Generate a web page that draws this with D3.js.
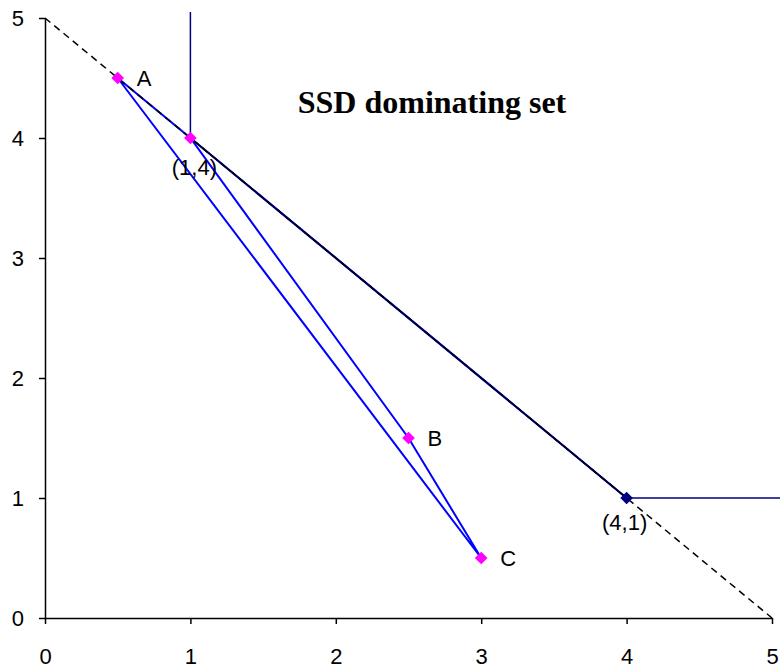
<!DOCTYPE html>
<html><head><meta charset="utf-8">
<script src="https://cdn.jsdelivr.net/npm/d3@7"></script>
<style>body{margin:0;background:#fff;}svg{display:block;}</style>
</head><body>
<script>
const xTicks = [0,1,2,3,4,5];
const yTicks = [0,1,2,3,4,5];
const dashedLine = [[0,5],[5,0]];
const polygonPts = [[0.5,4.5],[1,4],[2.5,1.5],[3,0.5],[0.5,4.5]];
const pointNames = ["A","(1,4)","B","C"];
const frontierPts = [[1,5.05],[1,4],[4,1],[5.06,1]];
const frontierMarker = [[4,1]];
const frontierName = "(4,1)";
const diag = [[1,4],[4,1]];
const title = "SSD dominating set";

const W=780,H=671;
const svg=d3.select("body").append("svg").attr("width",W).attr("height",H);
const x=d3.scaleLinear().domain([0,5]).range([45,772]);
const y=d3.scaleLinear().domain([0,5]).range([618,18]);
const FONT="Arial, 'Liberation Sans', sans-serif";

const xAxis=svg.append("g").attr("transform","translate(0,618)")
  .call(d3.axisBottom(x).tickValues(xTicks).tickFormat(d3.format("d")).tickSize(6).tickSizeOuter(0).tickPadding(24));
const yAxis=svg.append("g").attr("transform","translate(45,0)")
  .call(d3.axisLeft(y).tickValues(yTicks).tickFormat(d3.format("d")).tickSize(6).tickSizeOuter(0).tickPadding(15));
[xAxis,yAxis].forEach(a=>{
  a.attr("font-size",null).attr("font-family",null);
  a.selectAll("path,line").attr("stroke","#000").attr("stroke-width",1.5);
  a.selectAll("text").attr("font-family",FONT).style("font-size","22px").attr("fill","#000");
});

const line=d3.line().x(d=>x(d[0])).y(d=>y(d[1]));
const plot=svg.append("g");

plot.append("path").datum(polygonPts).attr("d",line).attr("fill","none").attr("stroke","#0000FF").attr("stroke-width",2);
plot.append("path").datum(frontierPts).attr("d",line).attr("fill","none").attr("stroke","#000080").attr("stroke-width",1.5);
plot.append("path").datum(diag).attr("d",line).attr("fill","none").attr("stroke","#0000FF").attr("stroke-width",2.2);
plot.append("path").datum(diag).attr("d",line).attr("fill","none").attr("stroke","#000").attr("stroke-width",1.3);
plot.append("path").datum(dashedLine).attr("d",line).attr("fill","none").attr("stroke","#000").attr("stroke-width",1.5).attr("stroke-dasharray","7,5");

const sym=d3.symbol().type(d3.symbolSquare).size(80);
plot.selectAll(".pm").data(polygonPts.slice(0,4)).enter().append("path")
  .attr("d",sym).attr("fill","#FF00FF")
  .attr("transform",d=>`translate(${x(d[0])},${y(d[1])}) rotate(45)`);
plot.selectAll(".fm").data(frontierMarker).enter().append("path")
  .attr("d",sym).attr("fill","#000080")
  .attr("transform",d=>`translate(${x(d[0])},${y(d[1])}) rotate(45)`);

const lbl=svg.append("g").attr("font-family",FONT).style("font-size","22px").attr("fill","#000");
const offs=[[19,8,"start"],[4,37,"middle"],[19,8,"start"],[19,8,"start"]];
polygonPts.slice(0,4).forEach((d,i)=>{
  lbl.append("text").attr("x",x(d[0])+offs[i][0]).attr("y",y(d[1])+offs[i][1]).attr("text-anchor",offs[i][2]).text(pointNames[i]);
});
lbl.append("text").attr("x",x(frontierMarker[0][0])-2).attr("y",y(frontierMarker[0][1])+32).attr("text-anchor","middle").text(frontierName);

svg.append("text").attr("x",432).attr("y",113).attr("text-anchor","middle")
  .attr("font-family","'Liberation Serif','Times New Roman',serif").attr("font-weight","bold").style("font-size","32px").text(title);
</script>
</body></html>
